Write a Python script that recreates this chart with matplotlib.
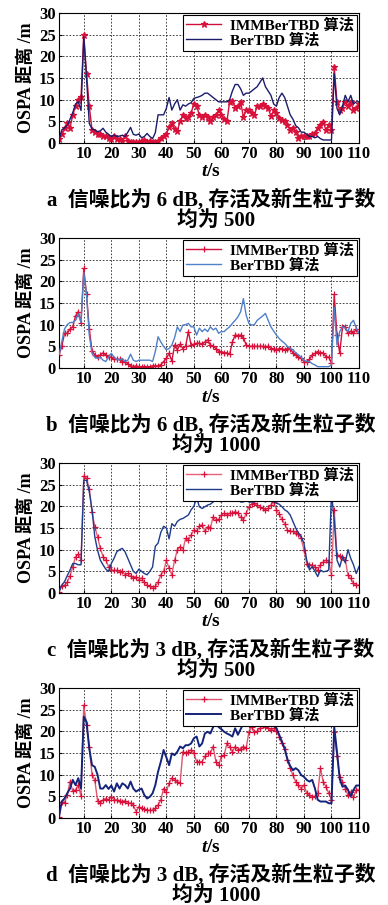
import numpy as np
import matplotlib
matplotlib.use("Agg")
import matplotlib.pyplot as plt

plt.rcParams['font.family'] = ['Liberation Serif', 'Noto Sans CJK SC', 'DejaVu Sans']
plt.rcParams['font.weight'] = 'bold'
plt.rcParams['mathtext.fontset'] = 'custom'
plt.rcParams['mathtext.it'] = 'Liberation Serif:italic:bold'
plt.rcParams['mathtext.rm'] = 'Liberation Serif:bold'

t = np.arange(1, 111)

imm_a = [1, 2, 3.5, 4.5, 3.5, 6.5, 8.5, 10, 10.5, 25,
         16, 8.5, 3, 2.5, 2, 2, 1.5, 1.5, 1.2, 1,
         1.5, 1, 1, 0.5, 1.5, 0.5, 0.3, 0.2, 0.3, 0.3,
         0.5, 0.8, 0.3, 0.5, 0.3, 0.2, 0.5, 1.1, 1.5, 2,
         3.8, 4.5, 3.2, 2.8, 5, 6.5, 5.8, 6, 7, 9,
         8.5, 6.5, 6, 6.5, 6, 5, 6, 6.5, 7.5, 6.5,
         5.5, 5, 9.5, 9.8, 8, 8.5, 9.5, 6, 7.5, 7.5,
         7, 6.5, 8.5, 8.5, 9, 8.5, 8, 6.2, 7.5, 7,
         5.7, 5.3, 5, 4.2, 3, 3.4, 2.5, 1.1, 1.5, 1.5,
         1.5, 1.5, 2, 2.2, 3.5, 4.2, 4.9, 3, 4.2, 3,
         17.5, 9.5, 7.5, 8, 9.5, 8.5, 9.5, 7.5, 8, 9]
ber_a = [0.8, 3, 3.5, 4, 5.5, 7, 9, 9.5, 7.5, 24.5,
         15, 4.5, 3.2, 3, 2.6, 2.8, 3.4, 2.5, 2, 1.5,
         1.8, 1.5, 1.6, 1.8, 1.5, 2.5, 3.6, 2, 1.8, 2.1,
         1.2, 1.5, 2.2, 1.5, 1, 2.4, 6.5, 6.5, 6.5, 8,
         10.5, 7.6, 9, 10, 7.6, 8.8, 8.5, 9, 9.3, 10.3,
         10.5, 10.7, 11, 11.5, 11.5, 11, 10.5, 10, 9.5, 9.5,
         9.5, 9.5, 10, 12, 13.5, 13.5, 12.5, 11, 11.5, 11.5,
         12, 12.5, 13, 14, 15, 13, 12, 11, 9, 8.5,
         10.5, 11.5, 10.5, 8.5, 6.5, 5.5, 4, 3.5, 2.5, 2.5,
         2, 1.5, 1.5, 1.2, 1.5, 1, 0.7, 0.7, 0.7, 0.7,
         16, 8, 6.5, 8.5, 11, 9.5, 11, 9, 9.5, 9.5]

imm_b = [3, 5, 8, 8, 9, 9.5, 12, 13, 10.5, 23,
         17, 9, 4, 3, 2.5, 3, 3.5, 3, 2.5, 2.5,
         2, 2, 2, 1.5, 1.5, 1, 0.5, 0.3, 0.5, 0.3,
         0.3, 0.3, 0.3, 0.3, 0.5, 0.5, 0.5, 0.8, 1.5, 2.2,
         3.4, 1.6, 5.3, 4.2, 5.5, 4.5, 5, 8.4, 5.3, 5.5,
         5.7, 5.7, 5.5, 6, 6.5, 5.3, 5, 4.5, 3.8, 3.8,
         3.5, 3.5, 3.2, 6, 7.6, 7.5, 7.6, 7, 5.3, 5,
         5, 5, 5, 5, 5, 4.9, 5, 4.5, 4.5, 4.2,
         4.5, 4.5, 4.2, 4.5, 4.5, 3.5, 3, 2.5, 2.2, 1.5,
         1.5, 2, 3, 3.4, 3.8, 3.5, 3.5, 2.6, 2.5, 1.1,
         17, 7.6, 3.4, 9.5, 9.5, 8, 8.5, 8, 9, 8]
ber_b = [3, 6, 9, 10, 10.5, 10.5, 11, 12.5, 10.5, 22,
         17, 7.6, 3.4, 2.5, 2.2, 2.5, 1.8, 1.5, 2.5, 3.4,
         2.5, 2, 1.8, 2.2, 1.5, 1.8, 3.2, 1.8, 1.5, 1.8,
         1.8, 1.8, 1.8, 1.8, 1.5, 3.8, 7.2, 6, 5, 4.2,
         4.5, 5.3, 7, 9.5, 8.4, 9.9, 10, 10.3, 9.5, 9.5,
         7.6, 9.2, 8.4, 9, 8.4, 9.5, 8.8, 9.2, 8, 8.4,
         8.4, 9, 9.5, 10.3, 11, 11.8, 13, 16, 12.2, 10.3,
         9.9, 10, 11, 11.5, 12, 12.6, 11, 9.5, 8.5, 7.6,
         6.8, 6.2, 5.7, 5, 4.5, 4.2, 3.5, 3, 2.5, 1.8,
         1.5, 1.5, 1, 0.7, 0.3, 0.3, 0.3, 0.3, 0.3, 0.7,
         14, 5.3, 8.4, 9.5, 9.2, 8.4, 10.3, 11, 9.2, 8]

imm_c = [0.3, 1.5, 1.8, 2.5, 4, 6, 8.4, 9, 7.6, 27,
         26.5, 24, 18.8, 15.3, 13, 10.3, 8.4, 7.6, 6.1, 5.3,
         5.2, 5.2, 4.9, 5, 4.2, 4.5, 4, 3.5, 3.8, 3,
         3.5, 2.5, 1.8, 1.5, 1.1, 1.5, 2.5, 4.2, 5, 7.5,
         5.7, 4.2, 7.6, 9.9, 10.7, 9.9, 12.6, 12.2, 13.4, 14.5,
         14.2, 15.5, 15.7, 14.2, 15.3, 15, 17.6, 16.8, 17, 18,
         18.4, 18, 18.4, 18.5, 18.8, 18.4, 17.5, 16.8, 18.4, 19.9,
         20.5, 20.7, 20.3, 19.9, 19.5, 19.2, 19.5, 20.3, 21, 19.2,
         18.2, 17, 16, 14.5, 14.2, 14.2, 13.8, 13.5, 12.6, 9.9,
         6.8, 6.5, 6.5, 6, 5.3, 6.5, 7.2, 7.6, 7.2, 4.2,
         19.2, 8.8, 8.6, 8.4, 7.6, 4.2, 3.4, 2.2, 1.8, 1.8]
ber_c = [0.3, 1.8, 2.6, 4, 5.3, 6.8, 6.8, 6.5, 6.5, 26,
         26, 23.4, 19.2, 13, 9.9, 7.6, 6.5, 5.5, 5, 6.8,
         8, 9.5, 10, 10.3, 9.5, 8, 6.5, 5, 4.5, 5.5,
         5, 4.5, 4.2, 5, 6, 10.8, 11.5, 14, 15.4, 15,
         12.5, 16, 15.4, 16.5, 17, 17.2, 17.6, 18, 19.2, 20,
         22, 19.9, 19.5, 19.9, 20.3, 20.5, 21, 21.5, 21.5, 21,
         21.5, 21.8, 22, 22, 21.5, 21.5, 21, 21, 21.5, 21,
         21, 21, 21.5, 21.5, 21.5, 21, 21.5, 21.5, 21, 20.7,
         20.5, 19.9, 19.2, 18.8, 18, 16.5, 15, 13.8, 13, 11.5,
         7.6, 5.3, 6.1, 5, 3.8, 5.3, 4.9, 5, 5.3, 23,
         16.8, 7.6, 6, 8.4, 7, 10, 8, 6.5, 4.5, 6.1]

imm_d = [0.3, 3.8, 3.5, 5.3, 8.4, 6.2, 6.5, 7.6, 5, 26,
         21.5, 16.5, 10, 8.8, 4, 3.4, 4.2, 4.5, 4.2, 4.9,
         4.2, 4.2, 4, 3.8, 4, 3.4, 3.5, 3, 1.5, 2.6,
         2.2, 2, 1.8, 1.8, 1.8, 2.2, 3, 4.2, 6.8, 6.1,
         8, 9.2, 8.8, 8.4, 8, 15.3, 14.9, 15.3, 15.7, 15,
         13, 13, 13, 14.2, 14.9, 15, 16.5, 13, 12.2, 14.2,
         14.5, 17.2, 16.5, 15.3, 16.5, 15.7, 16, 16.5, 16.1, 19.9,
         21, 19.9, 20, 20.7, 21.5, 21, 20.7, 20.3, 20.7, 20,
         18.8, 17.2, 16, 13.4, 11.5, 9.9, 8.4, 7.6, 6.8, 7.6,
         5.7, 5.3, 4.9, 5, 5.7, 11.5, 8.4, 7.2, 5.7, 4.2,
         19.9, 14.2, 9.5, 8.4, 6.8, 5.3, 6.1, 4.8, 6.5, 6.5]
ber_d = [0.3, 3.8, 4.5, 5.7, 6.8, 8.8, 7.6, 9.2, 6.8, 23.4,
         22.2, 16, 12.2, 11.8, 10, 6.8, 6.8, 7.6, 6.7, 7.5,
         6.1, 8, 6.8, 8, 7.6, 6.8, 8.4, 6.8, 6.1, 6.5,
         6.8, 5.3, 4.5, 4.9, 5.7, 7.6, 10.7, 13, 15.7, 14,
         12.2, 14.9, 14.5, 15.3, 16.5, 16.1, 16.8, 16.8, 17.2, 18.4,
         18.8, 16.5, 17.2, 19.5, 19.9, 19.5, 21, 21.8, 21, 20.5,
         19.9, 19.5, 19.2, 18.8, 20.7, 19.2, 20.5, 21.8, 22.6, 22.5,
         22.5, 22, 22.5, 22.5, 22, 22.5, 22, 21.8, 21.5, 20.7,
         19.2, 17.6, 16, 13.5, 12, 11, 11.5, 11, 9.9, 9.5,
         8.8, 8.4, 8.8, 6.8, 4.2, 3.8, 3.8, 3.8, 3.4, 3.4,
         21, 15.3, 9, 7.2, 7.5, 6.5, 5, 6.5, 7.5, 7.5]

legend_labels = ['IMMBerTBD 算法', 'BerTBD 算法']
xticks = list(range(10, 111, 10))
yticks = [0, 5, 10, 15, 20, 25, 30]
ylabel = 'OSPA 距离 /m'
xlabel = r'$t$/s'
captions = [('a  信噪比为 6 dB, 存活及新生粒子数', '均为 500'),
            ('b  信噪比为 6 dB, 存活及新生粒子数', '均为 1000'),
            ('c  信噪比为 3 dB, 存活及新生粒子数', '均为 500'),
            ('d  信噪比为 3 dB, 存活及新生粒子数', '均为 1000')]

panels = [(imm_a, ber_a), (imm_b, ber_b), (imm_c, ber_c), (imm_d, ber_d)]
red_line_cols = ['#d0103a', '#d0103a', '#e8607a', '#e05570']
blue_cols = ['#1c1c6c', '#4f80c8', '#1f3c8c', '#14247a']
blue_lw = [1.0, 1.0, 1.0, 1.4]
markers = ['*', '+', '+', '+']

W, H = 388, 905
fig = plt.figure(figsize=(W / 100, H / 100), dpi=100)

for k, ((imm, ber), cap) in enumerate(zip(panels, captions)):
    off = 225 * k
    bot = 143 + off
    ax = fig.add_axes([59 / W, 1 - bot / H, 300 / W, 130 / H])
    ax.plot(t, imm, color=red_line_cols[k], lw=1.0, marker=markers[k],
            ms=4.5 if markers[k] == '*' else 5, mec='#d8103a', mfc='#d8103a', mew=0.9,
            label=legend_labels[0], zorder=2)
    ax.plot(t, ber, color=blue_cols[k], lw=blue_lw[k], label=legend_labels[1], zorder=3)
    ax.set_xlim(1, 110)
    ax.set_ylim(0, 30)
    ax.set_xticks(xticks)
    ax.set_yticks(yticks)
    ax.grid(True, color='#222222', linestyle=(0, (2, 2)), lw=0.6)
    ax.tick_params(direction='in', length=2, labelsize=12, pad=2.5)
    for lab in ax.get_xticklabels() + ax.get_yticklabels():
        lab.set_fontweight('bold')
    for s in ax.spines.values():
        s.set_linewidth(0.8)
        s.set_color('black')
    ax.set_ylabel(ylabel, fontsize=13, fontweight='bold', labelpad=3)
    leg = ax.legend(loc='upper right', borderaxespad=0.1,
                    frameon=True, fancybox=False, framealpha=1, edgecolor='black',
                    handlelength=2.3, labelspacing=0.05, borderpad=0.2,
                    handletextpad=0.6, prop={'weight': 'bold', 'size': 11})
    leg.get_frame().set_linewidth(0.8)
    leg.set_zorder(10)
    fig.text(211 / W, 1 - (172 + off) / H, xlabel, fontsize=14, ha='center',
             va='center', fontweight='bold')
    fig.text(211 / W, 1 - (200 + off) / H, cap[0], fontsize=15, ha='center',
             va='center', fontweight='bold')
    fig.text(216 / W, 1 - (221 + off) / H, cap[1], fontsize=15, ha='center',
             va='center', fontweight='bold')

fig.savefig('out.png', dpi=100)
